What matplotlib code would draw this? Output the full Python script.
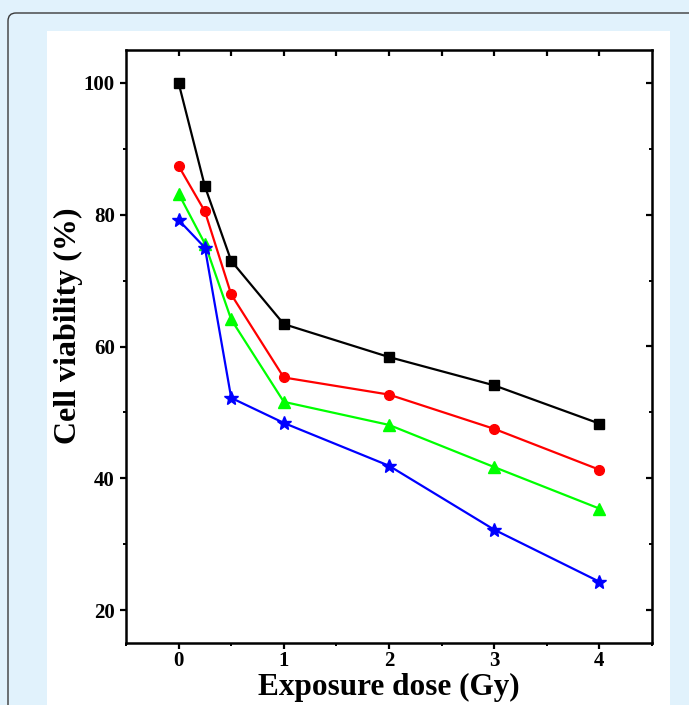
import matplotlib
matplotlib.use("Agg")
import matplotlib.pyplot as plt
from matplotlib.patches import FancyBboxPatch, Rectangle
from matplotlib.ticker import MultipleLocator

# exposure dose (Gy) and cell viability (%)
dose = [0, 0.25, 0.5, 1, 2, 3, 4]
viab_black = [100.0, 84.3, 73.0, 63.4, 58.4, 54.1, 48.3]
viab_red = [87.4, 80.5, 67.9, 55.3, 52.7, 47.5, 41.3]
viab_green = [83.2, 75.6, 64.1, 51.6, 48.1, 41.7, 35.4]
viab_blue = [79.2, 75.0, 52.2, 48.4, 41.9, 32.2, 24.3]

xticks = [0, 1, 2, 3, 4]
yticks = [20, 40, 60, 80, 100]

W, H = 689, 705
fig = plt.figure(figsize=(W / 100, H / 100), dpi=100)
fig.patch.set_facecolor("#e1f2fc")

# rounded outer frame, running off the right and bottom edges
frame = FancyBboxPatch((8 / 100, -0.3), 7.5, (H - 13) / 100 + 0.3,
                       boxstyle="round,pad=0,rounding_size=0.08",
                       transform=fig.dpi_scale_trans, facecolor="#e1f2fc",
                       edgecolor="#3a3a3a", linewidth=1.0, zorder=-3)
fig.add_artist(frame)
panel = Rectangle((47 / W, 0), (670 - 47) / W, (H - 31) / H,
                  transform=fig.transFigure, facecolor="white",
                  edgecolor="none", zorder=-2)
fig.add_artist(panel)

ax = fig.add_axes([126 / W, (H - 643) / H, (652 - 126) / W, (643 - 50) / H])
ax.set_facecolor("white")

lw = 1.6
ax.plot(dose, viab_black, color="black", marker="s", ms=6.5, lw=lw)
ax.plot(dose, viab_red, color="#ff0000", marker="o", ms=7, lw=lw)
ax.plot(dose, viab_green, color="#00ff00", marker="^", ms=8.5, lw=lw)
ax.plot(dose, viab_blue, color="#0000ff", marker="*", ms=10.5, lw=lw)

ax.set_xlim(-0.5, 4.5)
ax.set_ylim(15, 105)
ax.set_xticks(xticks)
ax.set_yticks(yticks)
ax.xaxis.set_minor_locator(MultipleLocator(0.5))
ax.yaxis.set_minor_locator(MultipleLocator(10))

font = "Liberation Serif"
for sp in ax.spines.values():
    sp.set_linewidth(1.8)
ax.tick_params(which="major", direction="out", length=4, width=1.6,
               labelsize=15, pad=4)
ax.tick_params(axis="x", which="major", pad=2)
ax.tick_params(which="minor", direction="out", length=2.5, width=1.4)
for lab in ax.get_xticklabels() + ax.get_yticklabels():
    lab.set_fontfamily(font)
    lab.set_fontweight("bold")

top = ax.secondary_xaxis("top")
top.set_xticks([0, 0.5, 1, 1.5, 2, 2.5, 3, 3.5, 4])
top.tick_params(direction="in", length=4, width=1.6, labeltop=False)
right = ax.secondary_yaxis("right")
right.set_yticks(yticks)
right.yaxis.set_minor_locator(MultipleLocator(10))
right.tick_params(which="major", direction="in", length=4, width=1.6, labelright=False)
right.tick_params(which="minor", direction="in", length=2.5, width=1.4)

ax.set_xlabel("Exposure dose (Gy)", fontsize=22.5, fontweight="bold", family=font)
ax.set_ylabel("Cell viability (%)", fontsize=23, fontweight="bold", family=font)
ax.xaxis.set_label_coords(0.5, -0.05)
ax.yaxis.set_label_coords(-0.082, 0.535)

fig.savefig("out.png", dpi=100, facecolor=fig.get_facecolor())
